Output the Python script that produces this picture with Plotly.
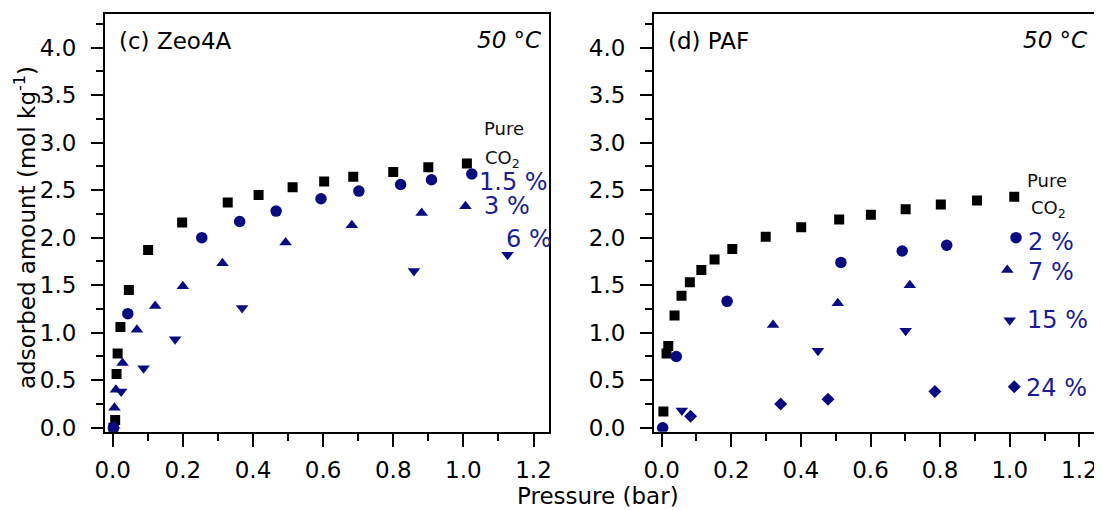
import plotly.graph_objects as go

# ---------------- data ----------------
# Panel (c) Zeo4A
zeo_pure_p = [0.002, 0.007, 0.011, 0.014, 0.022, 0.046, 0.101, 0.198, 0.328, 0.416, 0.513, 0.603, 0.686, 0.800, 0.900, 1.010]
zeo_pure_q = [0.00, 0.08, 0.565, 0.78, 1.06, 1.45, 1.87, 2.16, 2.37, 2.45, 2.53, 2.59, 2.64, 2.69, 2.74, 2.78]
zeo_15_p = [0.002, 0.043, 0.254, 0.362, 0.466, 0.594, 0.702, 0.821, 0.909, 1.024]
zeo_15_q = [0.00, 1.20, 2.00, 2.17, 2.28, 2.41, 2.49, 2.56, 2.61, 2.67]
zeo_3_p = [0.004, 0.005, 0.009, 0.028, 0.069, 0.121, 0.200, 0.313, 0.493, 0.682, 0.881, 1.006]
zeo_3_q = [0.02, 0.21, 0.40, 0.68, 1.03, 1.28, 1.49, 1.73, 1.95, 2.13, 2.26, 2.33]
zeo_6_p = [0.024, 0.088, 0.178, 0.369, 0.859, 1.126]
zeo_6_q = [0.38, 0.625, 0.93, 1.26, 1.65, 1.82]

# Panel (d) PAF
paf_pure_p = [0.005, 0.014, 0.019, 0.037, 0.057, 0.081, 0.114, 0.152, 0.203, 0.299, 0.401, 0.510, 0.601, 0.701, 0.802, 0.906, 1.013]
paf_pure_q = [0.17, 0.78, 0.86, 1.18, 1.39, 1.53, 1.66, 1.77, 1.88, 2.01, 2.11, 2.19, 2.24, 2.30, 2.35, 2.39, 2.43]
paf_2_p = [0.003, 0.042, 0.188, 0.515, 0.691, 0.819, 1.018]
paf_2_q = [0.00, 0.75, 1.33, 1.74, 1.86, 1.92, 2.00]
paf_7_p = [0.320, 0.506, 0.713, 0.993]
paf_7_q = [1.08, 1.31, 1.50, 1.66]
paf_15_p = [0.058, 0.449, 0.701, 1.000]
paf_15_q = [0.18, 0.81, 1.02, 1.13]
paf_24_p = [0.083, 0.342, 0.478, 0.785, 1.013]
paf_24_q = [0.12, 0.25, 0.30, 0.38, 0.43]

x_ticks = [0.0, 0.2, 0.4, 0.6, 0.8, 1.0, 1.2]
y_ticks = [0.0, 0.5, 1.0, 1.5, 2.0, 2.5, 3.0, 3.5, 4.0]

# ---------------- style ----------------
FONT = "DejaVu Sans, Liberation Sans, Arial, sans-serif"
NAVY = "#0b0b80"
TXT_NAVY = "#1c1c96"
BLACK = "#000000"

fig = go.Figure()

def add(xs, ys, symbol, color, size, xa, ya):
    fig.add_trace(go.Scatter(
        x=xs, y=ys, mode="markers", xaxis=xa, yaxis=ya, showlegend=False,
        marker=dict(symbol=symbol, color=color, size=size, line=dict(width=0)),
        hoverinfo="x+y"))

# left panel
add(zeo_pure_p, zeo_pure_q, "square", BLACK, 10, "x", "y")
add(zeo_15_p, zeo_15_q, "circle", NAVY, 11.5, "x", "y")
add(zeo_3_p, zeo_3_q, "triangle-up", NAVY, 11, "x", "y")
add(zeo_6_p, zeo_6_q, "triangle-down", NAVY, 11, "x", "y")
# right panel
add(paf_pure_p, paf_pure_q, "square", BLACK, 10, "x2", "y2")
add(paf_2_p, paf_2_q, "circle", NAVY, 11.5, "x2", "y2")
add(paf_7_p, paf_7_q, "triangle-up", NAVY, 11, "x2", "y2")
add(paf_15_p, paf_15_q, "triangle-down", NAVY, 11, "x2", "y2")
add(paf_24_p, paf_24_q, "diamond", NAVY, 10, "x2", "y2")

# the page body adds an 8 px offset, so the figure is 8 px smaller and shifted
OFF = 8
W, H = 1102 - OFF, 510 - OFF

def px(v):
    return (v - OFF) / W

def py(v):
    return (H - (v - OFF)) / H

def xaxis(domain, anchor):
    return dict(domain=domain, anchor=anchor, range=[-0.022, 1.245], tickvals=x_ticks, tickformat=".1f",
                ticks="outside", ticklen=13, tickwidth=2, tickcolor="black",
                minor=dict(ticks="outside", dtick=0.1, tick0=0, ticklen=7, tickwidth=2, tickcolor="black"),
                showline=True, linewidth=2, linecolor="black", mirror=True,
                showgrid=False, zeroline=False, ticklabelstandoff=4, automargin=False,
                tickfont=dict(family=FONT, size=23, color="black"), fixedrange=True)

def yaxis(anchor):
    return dict(domain=[py(431.7), py(14)], range=[-0.042, 4.354], anchor=anchor,
                tickvals=y_ticks, tickformat=".1f",
                ticks="outside", ticklen=12, tickwidth=2, tickcolor="black",
                minor=dict(ticks="outside", dtick=0.25, tick0=0, ticklen=7, tickwidth=2, tickcolor="black"),
                showline=True, linewidth=2, linecolor="black", mirror=True,
                showgrid=False, zeroline=False, ticklabelstandoff=10, automargin=False,
                tickfont=dict(family=FONT, size=23, color="black"), fixedrange=True)

fig.update_layout(
    template="none",
    width=W, height=H, margin=dict(l=0, r=0, t=0, b=0, pad=0, autoexpand=False),
    paper_bgcolor="white", plot_bgcolor="white",
    xaxis=xaxis([px(105), px(549.3)], "y"), yaxis=yaxis("x"),
    xaxis2=xaxis([px(654), px(1095)], "y2"), yaxis2=yaxis("x2"),
)

def ann(text, x, y, xref, yref, size, color, xanchor="left", yanchor="middle", italic=False, angle=0):
    fig.add_annotation(text=text, x=x, y=y, xref=xref, yref=yref, showarrow=False,
                       xanchor=xanchor, yanchor=yanchor, textangle=angle,
                       font=dict(family=FONT, size=size, color=color,
                                 style="italic" if italic else "normal"))

# panel titles
ann("(c) Zeo4A", 0.012, 4.07, "x", "y", 23, BLACK)
ann("50 °C", 1.228, 4.08, "x", "y", 23, BLACK, xanchor="right", italic=True)
ann("(d) PAF", 0.012, 4.07, "x2", "y2", 23, BLACK)
ann("50 °C", 1.228, 4.08, "x2", "y2", 23, BLACK, xanchor="right", italic=True)

# left labels
ann("Pure", 1.115, 3.15, "x", "y", 18, "#111111", xanchor="center")
ann("CO<sub>2</sub>", 1.112, 2.83, "x", "y", 18, "#111111", xanchor="center")
ann("1.5 %", 1.040, 2.59, "x", "y", 24, TXT_NAVY)
ann("3 %", 1.052, 2.335, "x", "y", 24, TXT_NAVY)
ann("6 %", 1.115, 1.99, "x", "y", 24, TXT_NAVY)

# right labels
ann("Pure", 1.106, 2.60, "x2", "y2", 18, "#111111", xanchor="center")
ann("CO<sub>2</sub>", 1.112, 2.30, "x2", "y2", 18, "#111111", xanchor="center")
ann("2 %", 1.046, 1.955, "x2", "y2", 24, TXT_NAVY)
ann("7 %", 1.046, 1.64, "x2", "y2", 24, TXT_NAVY)
ann("15 %", 1.044, 1.135, "x2", "y2", 24, TXT_NAVY)
ann("24 %", 1.041, 0.42, "x2", "y2", 24, TXT_NAVY)

# axis titles
ann("adsorbed amount (mol kg<sup>-1</sup>)", px(25), py(228), "paper", "paper", 23, BLACK,
    xanchor="center", yanchor="middle", angle=-90)
ann("Pressure (bar)", px(598), py(496), "paper", "paper", 23, BLACK,
    xanchor="center", yanchor="middle")

fig.write_html("out.html")
